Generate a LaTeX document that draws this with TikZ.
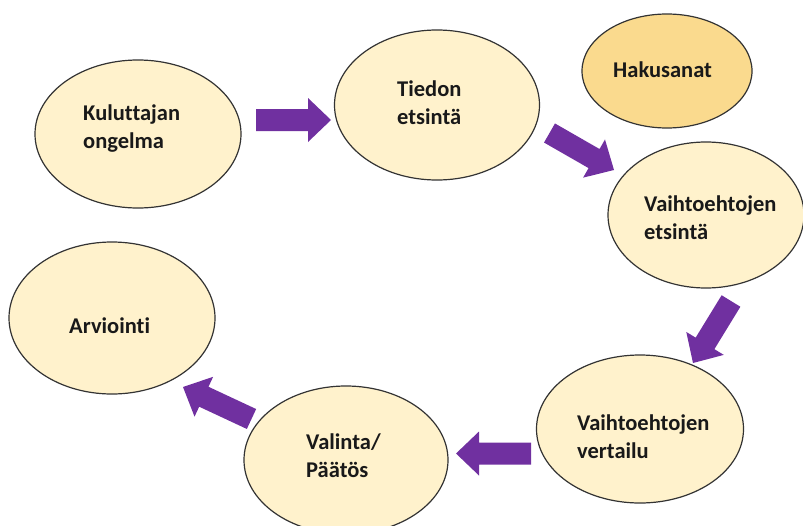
\documentclass[tikz,border=0pt]{standalone}
\usepackage{fontspec}
\setmainfont{Carlito}[Ligatures=NoCommon]
\usetikzlibrary{shapes.geometric,calc}
\definecolor{lightfill}{HTML}{FFF2CC}
\definecolor{keyfill}{HTML}{FADA8E}
\definecolor{outline}{HTML}{333333}
\definecolor{arrowpurple}{HTML}{7030A0}
\tikzset{
  stage/.style={ellipse, draw=outline, line width=1.2pt, fill=lightfill, inner sep=0pt},
  keystage/.style={stage, fill=keyfill},
  lbl/.style={anchor=base west, inner sep=0pt, align=left, font=\bfseries\fontsize{22.5}{28}\selectfont, text=black!90},
  blk/.style={fill=arrowpurple}
}
\newcommand\blkarrow[2]{%
  \coordinate (hb) at ($(#2)!23pt!(#1)$);
  \fill[blk] ($(#1)!11pt!90:(hb)$) -- ($(hb)!11pt!-90:(#1)$) -- ($(hb)!22pt!-90:(#1)$) -- (#2)
     -- ($(hb)!22pt!90:(#1)$) -- ($(hb)!11pt!90:(#1)$) -- ($(#1)!11pt!-90:(hb)$) -- cycle;}
\begin{document}
\begin{tikzpicture}[x=1pt,y=-1pt]
\useasboundingbox (0,0) rectangle (803,525);
% stages
\node[stage, minimum width=206pt, minimum height=148pt] (kul) at (138,134) {};
\node[stage, minimum width=205pt, minimum height=150pt] (tie) at (437,105) {};
\node[keystage, minimum width=170pt, minimum height=114pt] (hak) at (667,71) {};
\node[stage, minimum width=196pt, minimum height=146pt] (vae) at (706,215) {};
\node[stage, minimum width=207pt, minimum height=148pt] (vav) at (640,429) {};
\node[stage, minimum width=204pt, minimum height=148pt] (val) at (346,460) {};
\node[stage, minimum width=206pt, minimum height=152pt] (arv) at (112,318) {};
% labels (base = baseline of last line)
\node[lbl] (tkul) at (83,148) {Kuluttajan\\ongelma};
\node[lbl] (ttie) at (397,124) {Tiedon\\etsintä};
\node[lbl] (thak) at (613,77) {Hakusanat};
\node[lbl] (tvae) at (644,239) {Vaihtoehtojen\\etsintä};
\node[lbl] (tvav) at (577,458) {Vaihtoehtojen\\vertailu};
\node[lbl] (tval) at (306,477) {Valinta/\\Päätös};
\node[lbl] (tarv) at (69,333) {Arviointi};
% arrow ends
\coordinate (a1t) at (256,120);   \coordinate (a1h) at (331,120);
\coordinate (a2t) at (549.5,133); \coordinate (a2h) at (614,170);
\coordinate (a3t) at (731,301);   \coordinate (a3h) at (693,363);
\coordinate (a4t) at (531,453.5); \coordinate (a4h) at (456,453.5);
\coordinate (a5t) at (251.5,419); \coordinate (a5h) at (183,387);
\blkarrow{a1t}{a1h}
\blkarrow{a2t}{a2h}
\blkarrow{a3t}{a3h}
\blkarrow{a4t}{a4h}
\blkarrow{a5t}{a5h}
\end{tikzpicture}
\end{document}
